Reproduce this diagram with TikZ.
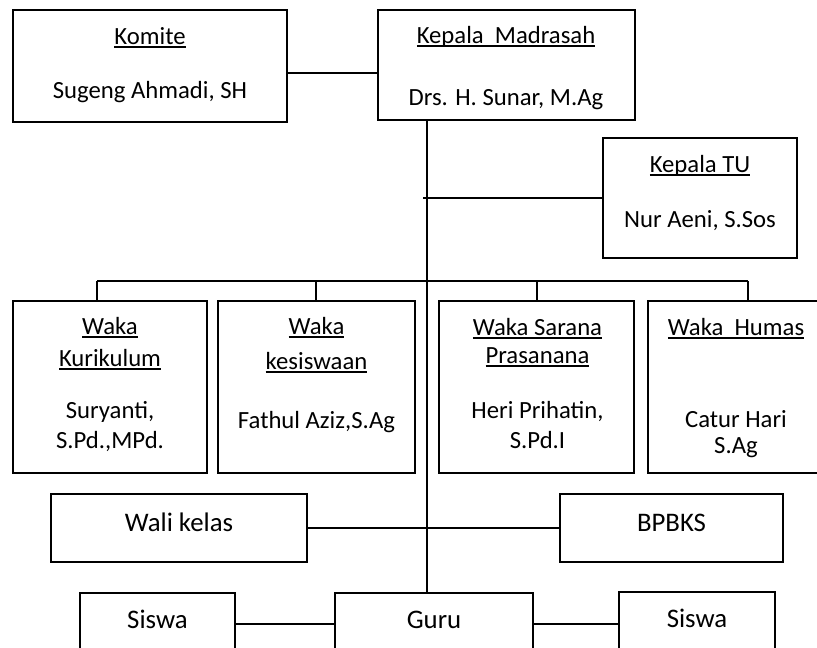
\documentclass[tikz,border=0pt]{standalone}
\usepackage{fontspec}
\setmainfont{Carlito}
\newcommand\ulx[1]{\setbox0=\hbox{#1}\rlap{\rule[-3.5pt]{\wd0}{1.4pt}}\box0}
\begin{document}
\begin{tikzpicture}[x=1pt,y=-1pt,
  box/.style={draw, line width=1.5pt, inner sep=0pt},
  txt/.style={anchor=base, inner sep=0pt, font=\fontsize{24.7}{29}\selectfont},
  big/.style={anchor=base, inner sep=0pt, font=\fontsize{26.8}{31}\selectfont},
  link/.style={line width=1.8pt}]
\useasboundingbox (0,0) rectangle (817,648);
\clip (0,0) rectangle (817,648);
% boxes
\node[box, minimum width=274pt, minimum height=112pt] (komite) at (150,66) {};
\node[box, minimum width=257pt, minimum height=110pt] (kepala) at (506.5,65) {};
\node[box, minimum width=194pt, minimum height=120pt] (tu) at (700,198) {};
\node[box, minimum width=194pt, minimum height=172pt] (w1) at (110,387) {};
\node[box, minimum width=197pt, minimum height=172pt] (w2) at (316.5,387) {};
\node[box, minimum width=195pt, minimum height=172pt] (w3) at (536.5,387) {};
\node[box, minimum width=177pt, minimum height=172pt] (w4) at (736.5,387) {};
\node[box, minimum width=256pt, minimum height=68pt] (wali) at (179,528) {};
\node[box, minimum width=223pt, minimum height=68pt] (bp) at (671.5,528) {};
\node[box, minimum width=155pt, minimum height=77pt] (s1) at (157.5,631.5) {};
\node[box, minimum width=198pt, minimum height=77pt] (guru) at (434,631.5) {};
\node[box, minimum width=156pt, minimum height=78pt] (s2) at (697,631) {};
% texts
\node[txt] (komiteA) at (150,44) {\ulx{Komite}};
\node[txt] (komiteB) at (150,98) {Sugeng Ahmadi, SH};
\node[txt] (kepalaA) at (506,43) {\ulx{Kepala\ \ Madrasah}};
\node[txt] (kepalaB) at (506,105) {Drs. H. Sunar, M.Ag};
\node[txt] (tuA) at (700,172) {\ulx{Kepala TU}};
\node[txt] (tuB) at (700,227) {Nur Aeni, S.Sos};
\node[txt] (w1A) at (110,334) {\ulx{Waka}};
\node[txt] (w1B) at (110,366) {\ulx{Kurikulum}};
\node[txt] (w1C) at (110,418) {Suryanti,};
\node[txt] (w1D) at (110,448) {S.Pd.,MPd.};
\node[txt] (w2A) at (316.5,334) {\ulx{Waka}};
\node[txt] (w2B) at (316.5,369) {\ulx{kesiswaan}};
\node[txt] (w2C) at (316.5,428) {Fathul Aziz,S.Ag};
\node[txt] (w3A) at (537.5,335) {\ulx{Waka Sarana}};
\node[txt] (w3B) at (537.5,363) {\ulx{Prasanana}};
\node[txt] (w3C) at (537.5,418) {Heri Prihatin,};
\node[txt] (w3D) at (537.5,448) {S.Pd.I};
\node[txt] (w4A) at (736,335) {\ulx{Waka\ \ Humas}};
\node[txt] (w4B) at (736,427) {Catur Hari};
\node[txt] (w4C) at (736,453) {S.Ag};
\node[big] (waliT) at (179,531) {Wali kelas};
\node[big] (bpT) at (671.5,531) {BPBKS};
\node[big] (s1T) at (157.5,628) {Siswa};
\node[big] (guruT) at (434,628) {Guru};
\node[big] (s2T) at (697,627) {Siswa};
% helper coordinates
\coordinate (tx) at (427,0);
\coordinate (ky) at (0,73);
\coordinate (d1) at (97,281);
\coordinate (d2) at (316,281);
\coordinate (d3) at (537,281);
\coordinate (d4) at (748,281);
\coordinate (gy) at (0,624);
% connectors
\draw[link] (komite.east |- ky) -- (kepala.west |- ky);
\draw[link] (kepala.south -| tx) -- (guru.north -| tx);
\draw[link] ([xshift=-4pt]tu.west -| tx) -- (tu.west);
\draw[link] (d1) -- (d4);
\draw[link] (d1) -- (w1.north -| d1);
\draw[link] (d2) -- (w2.north -| d2);
\draw[link] (d3) -- (w3.north -| d3);
\draw[link] (d4) -- (w4.north -| d4);
\draw[link] (wali.east) -- (bp.west);
\draw[link] (s1.east |- gy) -- (guru.west |- gy);
\draw[link] (guru.east |- gy) -- (s2.west |- gy);
\end{tikzpicture}
\end{document}
